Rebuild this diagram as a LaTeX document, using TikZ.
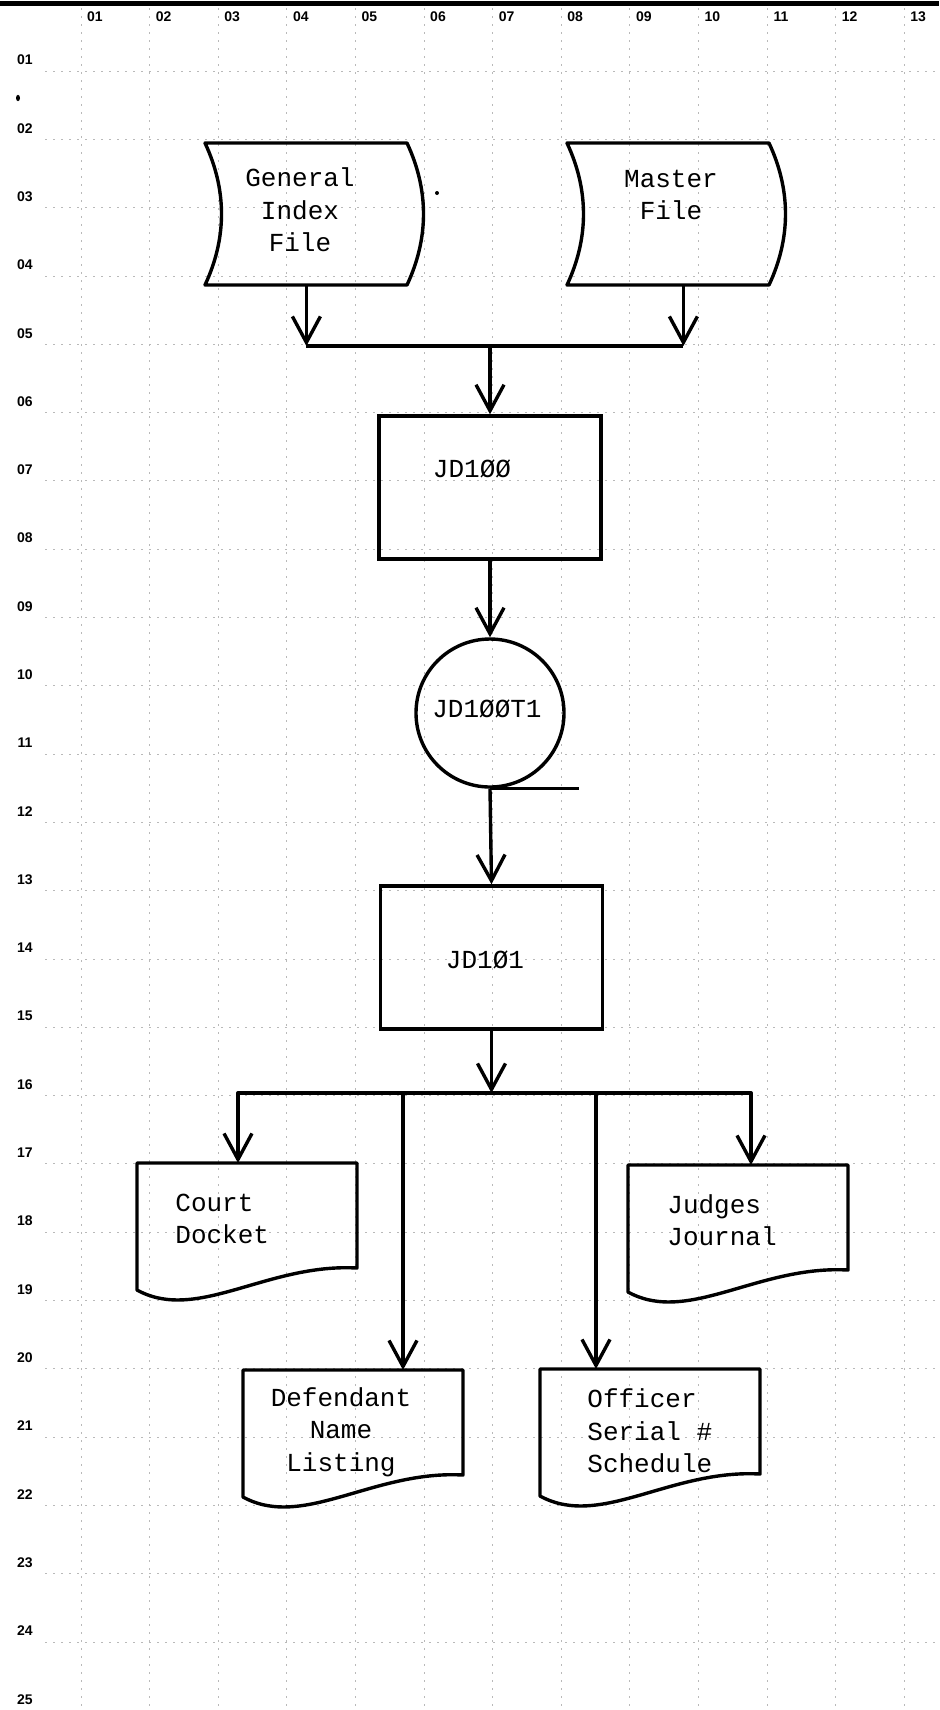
\documentclass[tikz,border=0pt]{standalone}
\usepackage{fontspec}
\newfontfamily\typefont{Liberation Mono}
\newfontfamily\gridfont{Liberation Sans}
\usetikzlibrary{arrows.meta,calc}
\definecolor{gridgray}{RGB}{185,185,185}
\newcommand{\fileoutline}[1]{\draw[shapeline,shift={(#1.north west)}] (0,142) .. controls (22,95) and (22,47) .. (0,0) -- (202,0) .. controls (224,47) and (224,95) .. (202,142) -- cycle;}
\newcommand{\docoutline}[1]{\draw[shapeline,shift={(#1.north west)}] (0,0) -- (220,0) -- (220,105) .. controls (130,100) and (60,160) .. (0,127) -- cycle;}
\begin{document}
\begin{tikzpicture}[x=0.5pt,y=-0.5pt,
    >={Straight Barb[length=13pt,width=14pt]},
    gridline/.style={gridgray,line width=0.35pt,dash pattern=on 1pt off 3pt},
    gridlabel/.style={font=\gridfont\bfseries\fontsize{7}{8}\selectfont,inner sep=0pt},
    shapeline/.style={line width=1.7pt,line join=round},
    flow/.style={shapeline,->},
    typed/.style={font=\typefont\fontsize{13}{16.3}\selectfont,inner sep=0pt},
    boxnode/.style={draw,line width=1.7pt,minimum width=111pt,minimum height=71.5pt,inner sep=0pt},
    filenode/.style={minimum width=101pt,minimum height=71pt,inner sep=0pt,anchor=north west},
    docnode/.style={minimum width=110pt,minimum height=52.5pt,inner sep=0pt,anchor=north west},
    tapenode/.style={draw,circle,line width=1.7pt,minimum size=74pt,inner sep=0pt}]
  \useasboundingbox (0,0) rectangle (939,1710);
  \foreach \k in {1,...,13}
    \draw[gridline] ({81+(\k-1)*68.6},8) -- ({81+(\k-1)*68.6},1710);
  \foreach \k in {1,...,24}
    \draw[gridline] (45,{71+(\k-1)*68.3}) -- (939,{71+(\k-1)*68.3});
  \draw[line width=2.5pt] (0,3) -- (939,3);
  \foreach \t [count=\k] in {01,02,03,04,05,06,07,08,09,10,11,12,13}
    \node[gridlabel] (col\t) at ({95+(\k-1)*68.6},17) {\t};
  \foreach \t [count=\k] in {01,02,03,04,05,06,07,08,09,10,11,12,13,14,15,16,17,18,19,20,21,22,23,24,25}
    \node[gridlabel] (row\t) at (25,{60+(\k-1)*68.3}) {\t};
  \fill (18,98) ellipse (1pt and 1.6pt);
  \fill (437,193) circle (1pt);

  \node[filenode] (gif) at (205,143) {};
  \node[filenode] (master) at (567,143) {};
  \fileoutline{gif}
  \fileoutline{master}
  \node[typed,align=center] (giftext) at (300,210) {General\\Index\\File};
  \node[typed,align=center] (mastertext) at (671,195) {Master\\File};

  \node[boxnode] (jda) at (490,487.5) {};
  \node[typed] (jdatext) at (472,469) {JD1ØØ};
  \node[tapenode] (tape) at (490,713) {};
  \node[typed] (tapetext) at (487,709) {JD1ØØT1};
  \node[boxnode] (jdb) at (491.5,957.5) {};
  \node[typed] (jdbtext) at (485,960) {JD1Ø1};

  \node[docnode] (court) at (137,1163) {};
  \node[docnode] (judges) at (628,1165) {};
  \node[docnode] (defend) at (243,1370) {};
  \node[docnode] (officer) at (540,1369) {};
  \docoutline{court}
  \docoutline{judges}
  \docoutline{defend}
  \docoutline{officer}
  \node[typed,align=left,anchor=west] (courttext) at (175,1219) {Court\\Docket};
  \node[typed,align=left,anchor=west] (judgestext) at (667,1220) {Judges\\Journal};
  \node[typed,align=center] (defendtext) at (341,1432) {Defendant\\Name\\Listing};
  \node[typed,align=left,anchor=west] (officertext) at (587,1431) {Officer\\Serial \#\\Schedule};

  \coordinate (merge) at (490,346);
  \draw[flow] (gif.south) -- (gif.south |- merge);
  \draw[flow] ([xshift=7.5pt]master.south) -- ([xshift=7.5pt]master.south |- merge);
  \draw[shapeline] (gif.south |- merge) -- ([xshift=7.5pt]master.south |- merge);
  \draw[flow] (merge) -- (jda.north);
  \draw[flow] (jda.south) -- (tape.north);
  \coordinate (tapetail) at ($(tape.south)+(89,0)$);
  \draw[shapeline] (tape.south) -- (tapetail);
  \draw[flow] (tape.south) -- (jdb.north);

  \coordinate (split) at (491.5,1093);
  \coordinate (tocourt) at (238,1093);
  \coordinate (todefend) at (403,1093);
  \coordinate (toofficer) at (596,1093);
  \coordinate (tojudges) at (751,1093);
  \draw[flow] (jdb.south) -- (split);
  \draw[shapeline,<->] (tocourt |- court.north) -- (tocourt) -- (tojudges) -- (tojudges |- judges.north);
  \draw[flow] (todefend) -- (todefend |- defend.north);
  \draw[flow] (toofficer) -- (toofficer |- officer.north);
\end{tikzpicture}
\end{document}
